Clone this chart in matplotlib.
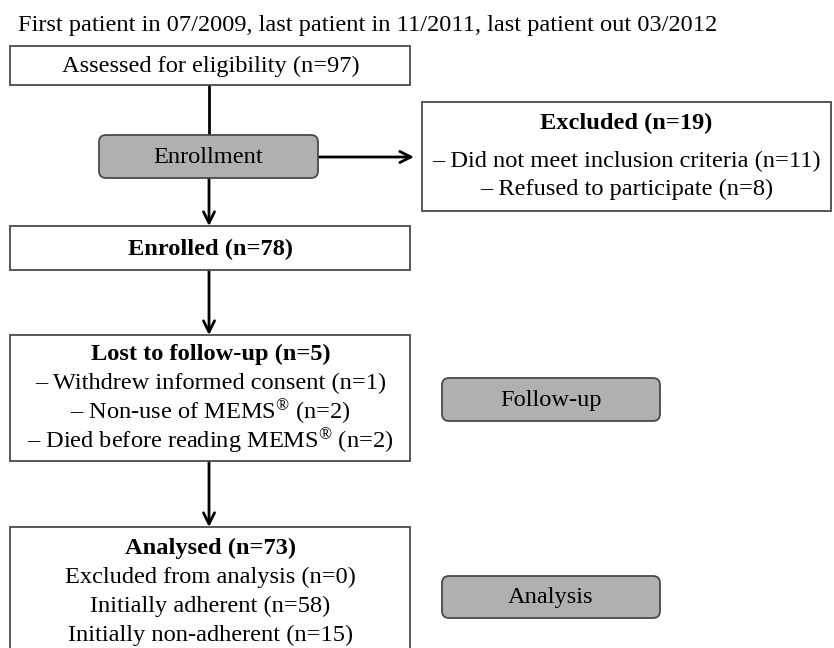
import matplotlib
matplotlib.use("Agg")
import matplotlib.pyplot as plt
from matplotlib.patches import Rectangle, FancyBboxPatch

plt.rcParams['font.family'] = ['Liberation Serif', 'DejaVu Serif']
plt.rcParams['mathtext.fontset'] = 'custom'
plt.rcParams['mathtext.rm'] = 'Liberation Serif'
plt.rcParams['mathtext.it'] = 'Liberation Serif:italic'
plt.rcParams['mathtext.bf'] = 'Liberation Serif:bold'

# ---- content ----
title_text = "First patient in 07/2009, last patient in 11/2011, last patient out 03/2012"
assessed_label = "Assessed for eligibility (n=97)"
stage_labels = ["Enrollment", "Follow-up", "Analysis"]
excluded_title = "Excluded (n=19)"
excluded_lines = ["– Did not meet inclusion criteria (n=11)",
                  "– Refused to participate (n=8)"]
enrolled_label = "Enrolled (n=78)"
lost_title = "Lost to follow-up (n=5)"
lost_lines = ["– Withdrew informed consent (n=1)",
              r"– Non-use of MEMS$^{\mathrm{®}}$ (n=2)",
              r"– Died before reading MEMS$^{\mathrm{®}}$ (n=2)"]
analysed_title = "Analysed (n=73)"
analysed_lines = ["Excluded from analysis (n=0)",
                  "Initially adherent (n=58)",
                  "Initially non-adherent (n=15)"]

W, H = 834, 648
fig = plt.figure(figsize=(W / 100, H / 100), dpi=100)
ax = fig.add_axes([0, 0, 1, 1])
ax.set_xlim(0, W)
ax.set_ylim(H, 0)
ax.axis('off')

FS = 17.6
EDGE = '#4a4a4a'
GREY = '#b0b0b0'

def box(x0, y0, x1, y1):
    ax.add_patch(Rectangle((x0, y0), x1 - x0, y1 - y0, facecolor='white',
                           edgecolor=EDGE, lw=1.3, zorder=2))

def rbox(x0, y0, x1, y1, label):
    ax.add_patch(FancyBboxPatch((x0, y0), x1 - x0, y1 - y0,
                                boxstyle="round,pad=0,rounding_size=7",
                                facecolor=GREY, edgecolor=EDGE, lw=1.3, zorder=2))
    ax.text((x0 + x1) / 2, (y0 + y1) / 2 + 1, label, ha='center', va='center',
            fontsize=FS, zorder=3)

def arrow(x0, y0, x1, y1, head=True):
    if head:
        ax.annotate("", xy=(x1, y1), xytext=(x0, y0),
                    arrowprops=dict(arrowstyle="->,head_length=0.8,head_width=0.4",
                                    lw=2.0, color='black', shrinkA=0, shrinkB=0),
                    zorder=1)
    else:
        ax.plot([x0, x1], [y0, y1], color='black', lw=2.0, zorder=1)

def txt(x, y, s, bold=False):
    ax.text(x, y, s, ha='center', va='center', fontsize=FS,
            fontweight='bold' if bold else 'normal', zorder=3)

# title
ax.text(18, 31, title_text, ha='left', va='baseline', fontsize=FS)

cx = 209
# assessed
box(10, 46, 410, 85)
txt(210.5, 66, assessed_label)

# connectors
arrow(cx, 85, cx, 135, head=False)
arrow(cx, 178, cx, 226)
arrow(318, 157, 414, 157)
arrow(cx, 270, cx, 335)
arrow(cx, 461, cx, 527)

# enrollment stage
rbox(99, 135, 318, 178, stage_labels[0])

# excluded
box(422, 102, 831, 211)
ex_cx = (422 + 831) / 2
txt(ex_cx, 123, excluded_title, bold=True)
for i, s in enumerate(excluded_lines):
    txt(ex_cx, 161 + 28 * i, s)

# enrolled
box(10, 226, 410, 270)
txt(210.5, 249, enrolled_label, bold=True)

# lost
box(10, 335, 410, 461)
txt(210.5, 354, lost_title, bold=True)
for i, s in enumerate(lost_lines):
    txt(210.5, 383 + 29 * i, s)

# follow-up stage
rbox(442, 378, 660, 421, stage_labels[1])

# analysed
box(10, 527, 410, 660)
txt(210.5, 548, analysed_title, bold=True)
for i, s in enumerate(analysed_lines):
    txt(210.5, 577 + 29 * i, s)

# analysis stage
rbox(442, 576, 660, 618, stage_labels[2])

fig.savefig("out.png", dpi=100, facecolor='white')
